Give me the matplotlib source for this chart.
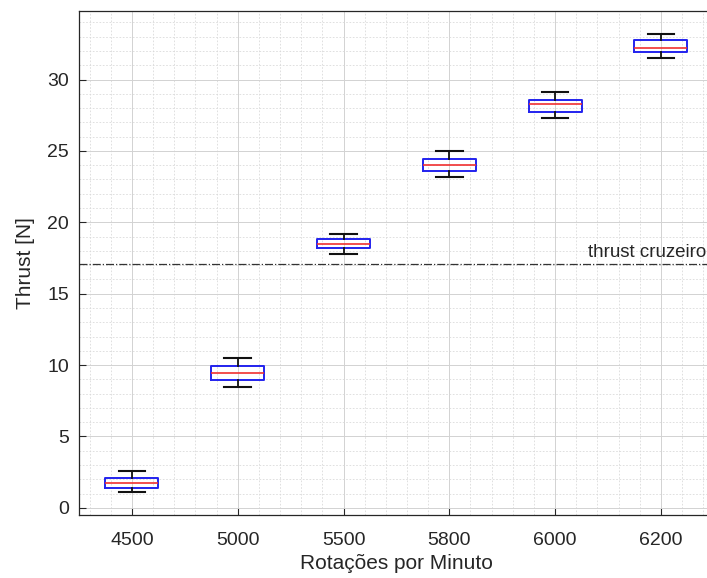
import numpy as np
import matplotlib.pyplot as plt
from matplotlib.ticker import MultipleLocator

# ---------------------------------------------------
rpm_labels = ['4500', '5000', '5500', '5800', '6000', '6200']
whislo = [1.12, 8.46, 17.76, 23.15, 27.27, 31.5]
q1 = [1.40, 8.95, 18.18, 23.57, 27.7, 31.9]
med = [1.75, 9.44, 18.46, 23.99, 28.3, 32.24]
q3 = [2.10, 9.93, 18.8, 24.4, 28.6, 32.8]
whishi = [2.59, 10.5, 19.16, 24.97, 29.1, 33.2]
thrust_cruise = 17.1
# ---------------------------------------------------

plt.rcParams['font.family'] = ['Liberation Sans', 'DejaVu Sans']

fig = plt.figure(figsize=(7.07, 5.78), dpi=100)
ax = fig.add_axes([0.1117, 0.109, 0.898, 0.872])

stats = []
for i in range(len(rpm_labels)):
    stats.append(dict(whislo=whislo[i], q1=q1[i], med=med[i], q3=q3[i],
                      whishi=whishi[i], fliers=[], label=rpm_labels[i]))

pos = np.arange(1, len(rpm_labels) + 1)
ax.bxp(stats, positions=pos, widths=0.5, showfliers=False,
       boxprops=dict(color='#2222ee', linewidth=1.4),
       medianprops=dict(color='#f03030', linewidth=1.2),
       whiskerprops=dict(color='#111111', linewidth=1.3),
       capprops=dict(color='#111111', linewidth=1.5), capwidths=0.25,
       zorder=3)

ax.axhline(thrust_cruise, color='#333333', linestyle='-.', linewidth=0.9, zorder=2)
ax.text(6.43, thrust_cruise + 0.45, 'thrust cruzeiro', ha='right', va='baseline',
        fontsize=13.5, color='#262626')

ax.set_xlim(0.5, 6.5)
ax.set_ylim(-0.5, 34.8)
ax.set_xticks(pos)
ax.set_xticklabels(rpm_labels)
ax.set_yticks(np.arange(0, 31, 5))
ax.xaxis.set_minor_locator(MultipleLocator(0.2))
ax.yaxis.set_minor_locator(MultipleLocator(1))

ax.grid(which='major', color='#d2d2d2', linestyle='-', linewidth=0.7, zorder=0)
ax.grid(which='minor', color='#dadada', linestyle=(0, (2, 2)), linewidth=0.6, zorder=0)
ax.set_axisbelow(True)

ax.tick_params(which='major', direction='in', length=5, colors='#262626',
               labelsize=14, top=False, right=False, pad=7)
ax.tick_params(axis='x', which='major', pad=12)
ax.tick_params(which='minor', length=0)
for s in ax.spines.values():
    s.set_color('#262626')
    s.set_linewidth(0.9)

ax.set_xlabel('Rotações por Minuto', fontsize=15, color='#262626', labelpad=4)
ax.set_ylabel('Thrust [N]', fontsize=15, color='#262626', labelpad=9)

fig.savefig('out.png', dpi=100)
